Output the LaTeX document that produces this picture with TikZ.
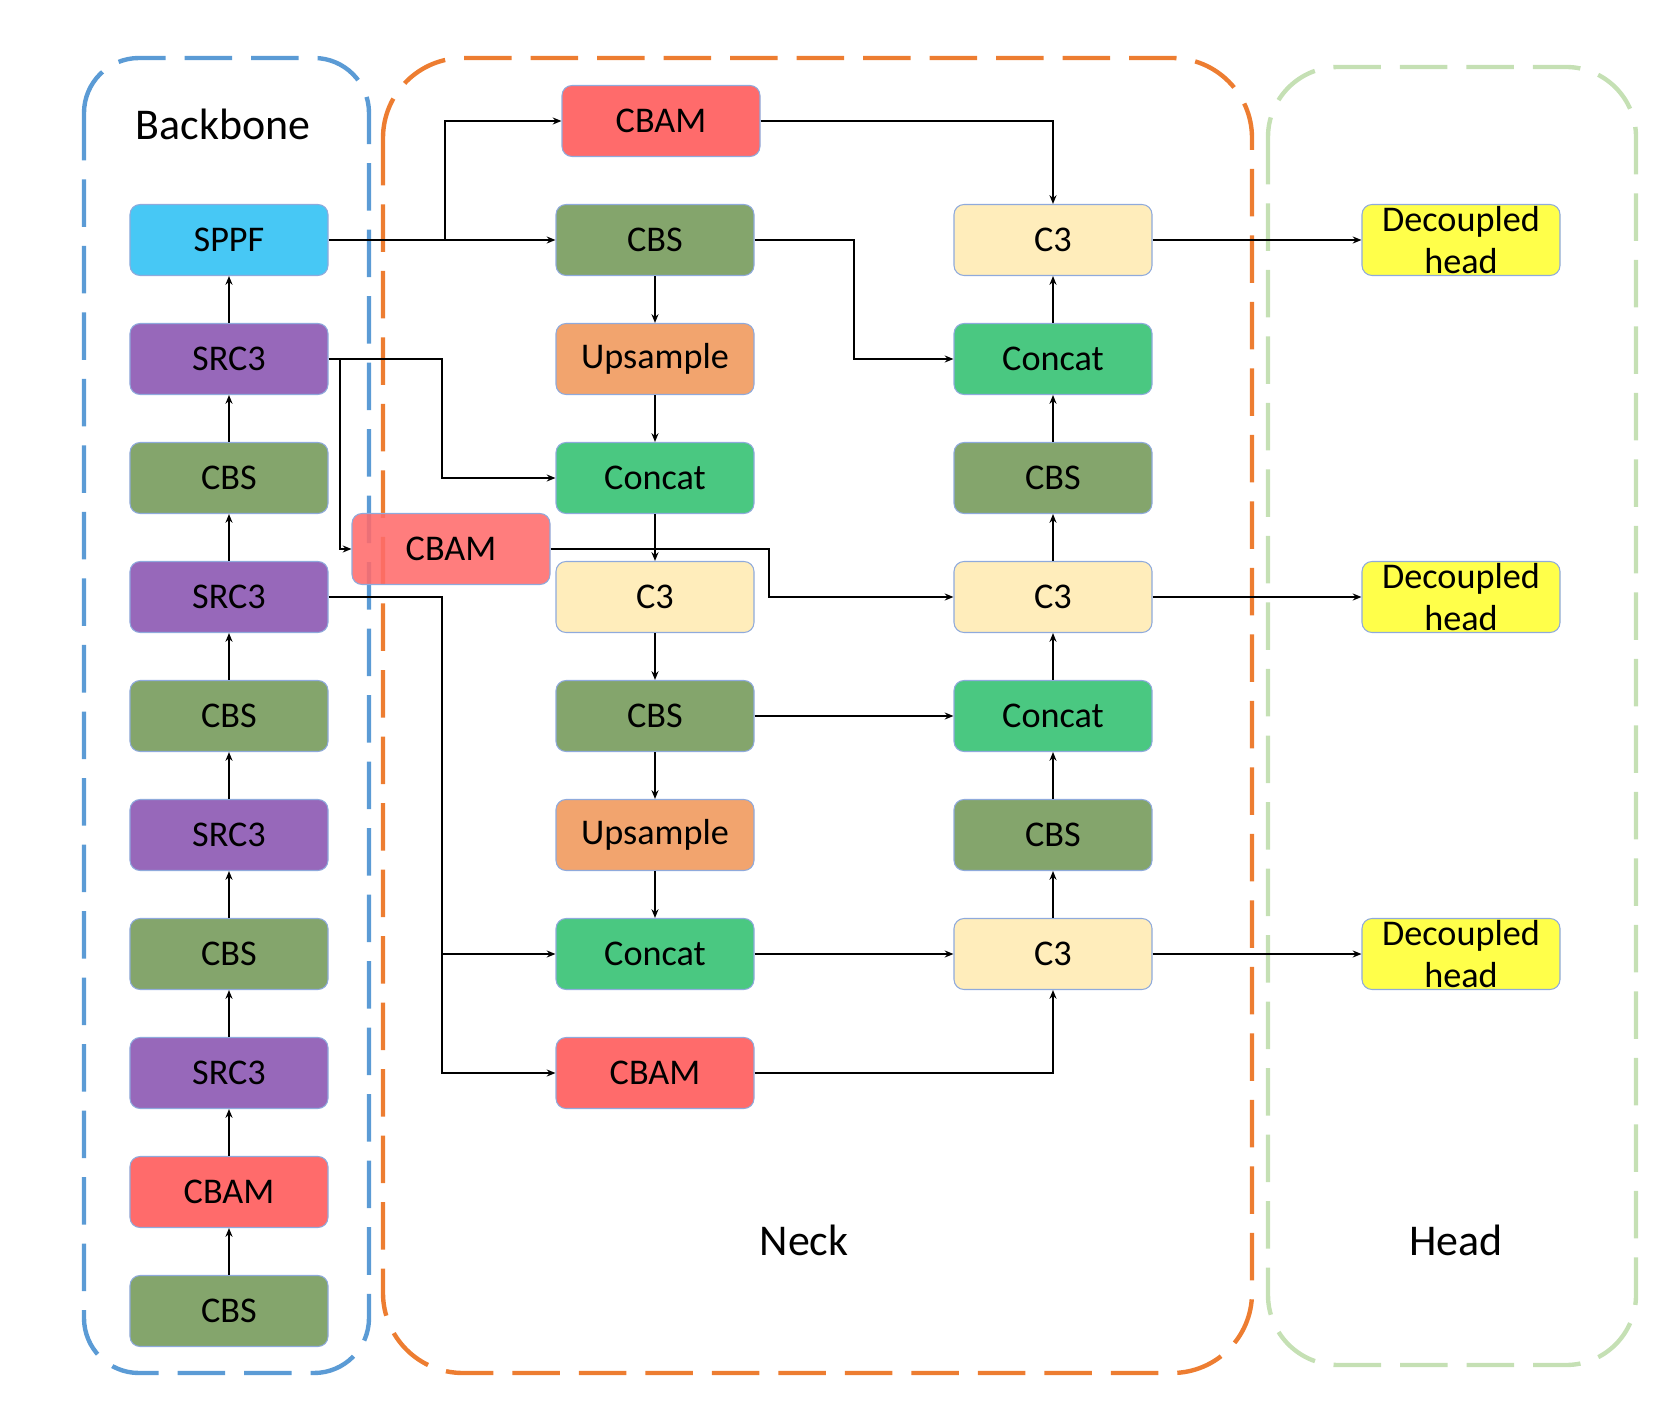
\documentclass[tikz,border=0pt]{standalone}
\usepackage{fontspec}
\setmainfont{Carlito}
\usetikzlibrary{arrows.meta, positioning}
\definecolor{sppffill}{HTML}{47C8F5}
\definecolor{src3fill}{HTML}{9768BA}
\definecolor{cbsfill}{HTML}{84A56C}
\definecolor{cbamfill}{HTML}{FF6B6B}
\definecolor{upfill}{HTML}{F2A46E}
\definecolor{catfill}{HTML}{4AC881}
\definecolor{c3fill}{HTML}{FFEDBB}
\definecolor{headfill}{HTML}{FFFF4A}
\definecolor{boxline}{HTML}{8FAADC}
\definecolor{bbline}{HTML}{5B9BD5}
\definecolor{neckline}{HTML}{ED7D31}
\definecolor{headline}{HTML}{C5E0B4}
\tikzstyle{block} = [rectangle, draw=boxline, line width=0.6pt, rounded corners=0.2cm, text centered, minimum height=1.42cm, minimum width=3.96cm, inner sep=0pt, font=\fontsize{20.6}{24}\selectfont]
\tikzstyle{sppf} = [block, fill=sppffill]
\tikzstyle{src3} = [block, fill=src3fill]
\tikzstyle{cbs} = [block, fill=cbsfill]
\tikzstyle{cbam} = [block, fill=cbamfill]
\tikzstyle{upsample} = [block, fill=upfill]
\tikzstyle{concat} = [block, fill=catfill]
\tikzstyle{c3} = [block, fill=c3fill]
\tikzstyle{dhead} = [block, fill=headfill, align=center, inner ysep=-2pt]
\tikzstyle{arrow} = [line width=1pt, -{Stealth[length=5pt,width=4pt]}]
\tikzstyle{groupbox} = [line width=2.5pt, dash pattern=on 0.95cm off 0.38cm]
\tikzstyle{grouplabel} = [font=\fontsize{25}{30}\selectfont]

\begin{document}
\begin{tikzpicture}[node distance=2.38cm]
    \useasboundingbox (-4.58,4.80) rectangle (28.74,-23.24);

    % Dashed groups
    \draw [groupbox, draw=bbline, rounded corners=1.1cm] (-2.90,3.64) rectangle (2.80,-22.66);
    \draw [groupbox, draw=neckline, rounded corners=1.6cm] (3.08,3.64) rectangle (20.46,-22.66);
    \draw [groupbox, draw=headline, rounded corners=1.4cm] (20.78,3.46) rectangle (28.14,-22.50);

    \node (l_bb) [grouplabel] at (-0.12,2.32) {Backbone};
    \node (l_neck) [grouplabel] at (11.5,-20.0) {Neck};
    \node (l_head) [grouplabel] at (24.54,-20.0) {Head};

    % Backbone
    \node (sppf) [sppf] {SPPF};
    \node (src3a) [src3, below of=sppf] {SRC3};
    \node (cbsa) [cbs, below of=src3a] {CBS};
    \node (src3b) [src3, below of=cbsa] {SRC3};
    \node (cbsb) [cbs, below of=src3b] {CBS};
    \node (src3c) [src3, below of=cbsb] {SRC3};
    \node (cbsc) [cbs, below of=src3c] {CBS};
    \node (src3d) [src3, below of=cbsc] {SRC3};
    \node (cbam_b) [cbam, below of=src3d] {CBAM};
    \node (cbs_in) [cbs, below of=cbam_b] {CBS};

    % Neck, left column
    \node (n_cbs1) [cbs, right of=sppf, xshift=6.14cm] {CBS};
    \node (n_cbam1) [cbam, above of=n_cbs1, xshift=0.12cm] {CBAM};
    \node (n_up1) [upsample, below of=n_cbs1] {Upsample};
    \node (n_cat1) [concat, below of=n_up1] {Concat};
    \node (n_c3) [c3, below of=n_cat1] {C3};
    \node (n_cbs2) [cbs, below of=n_c3] {CBS};
    \node (n_up2) [upsample, below of=n_cbs2] {Upsample};
    \node (n_cat2) [concat, below of=n_up2] {Concat};
    \node (n_cbam3) [cbam, below of=n_cat2] {CBAM};
    \node (n_cbam2) [cbam, right of=src3a, xshift=2.06cm, yshift=-3.80cm, fill opacity=0.88, text opacity=1] {CBAM};

    % Neck, right column
    \node (r_c3a) [c3, right of=n_cbs1, xshift=5.58cm] {C3};
    \node (r_cat1) [concat, below of=r_c3a] {Concat};
    \node (r_cbs1) [cbs, below of=r_cat1] {CBS};
    \node (r_c3b) [c3, below of=r_cbs1] {C3};
    \node (r_cat2) [concat, below of=r_c3b] {Concat};
    \node (r_cbs2) [cbs, below of=r_cat2] {CBS};
    \node (r_c3c) [c3, below of=r_cbs2] {C3};

    % Head
    \node (h1) [dhead, right of=r_c3a, xshift=5.78cm] {Decoupled\\head};
    \node (h2) [dhead, right of=r_c3b, xshift=5.78cm] {Decoupled\\head};
    \node (h3) [dhead, right of=r_c3c, xshift=5.78cm] {Decoupled\\head};

    % elbow points
    \coordinate (k_sppf) at (4.32,0);
    \coordinate (k_cbs) at (12.5,-1);
    \coordinate (k_src3a) at (4.26,-3.5);
    \coordinate (k_side) at (2.22,-2.38);
    \coordinate (k_cbam) at (10.80,-6.6);
    \coordinate (k_src3b) at (4.26,-10);

    % ==== Arrows
    % Backbone
    \draw [arrow] (cbs_in) -- (cbam_b);
    \draw [arrow] (cbam_b) -- (src3d);
    \draw [arrow] (src3d) -- (cbsc);
    \draw [arrow] (cbsc) -- (src3c);
    \draw [arrow] (src3c) -- (cbsb);
    \draw [arrow] (cbsb) -- (src3b);
    \draw [arrow] (src3b) -- (cbsa);
    \draw [arrow] (cbsa) -- (src3a);
    \draw [arrow] (src3a) -- (sppf);

    % Neck
    \draw [arrow] (sppf) -- (n_cbs1);
    \draw [arrow] (k_sppf) |- (n_cbam1);
    \draw [arrow] (n_cbam1) -| (r_c3a);
    \draw [arrow] (n_cbs1) -| (k_cbs) |- (r_cat1);
    \draw [arrow] (n_cbs1) -- (n_up1);
    \draw [arrow] (n_up1) -- (n_cat1);
    \draw [arrow] (src3a) -| (k_src3a) |- (n_cat1);
    \draw [arrow] (k_side) |- (n_cbam2);
    \draw [arrow] (n_cat1) -- (n_c3);
    \draw [arrow] (n_cbam2) -| (k_cbam) |- (r_c3b);
    \draw [arrow] (n_c3) -- (n_cbs2);
    \draw [arrow] (n_cbs2) -- (r_cat2);
    \draw [arrow] (n_cbs2) -- (n_up2);
    \draw [arrow] (n_up2) -- (n_cat2);
    \draw [arrow] (src3b) -| (k_src3b) |- (n_cat2);
    \draw [arrow] (k_src3b) |- (n_cbam3);
    \draw [arrow] (n_cat2) -- (r_c3c);
    \draw [arrow] (n_cbam3) -| (r_c3c);

    \draw [arrow] (r_c3c) -- (r_cbs2);
    \draw [arrow] (r_cbs2) -- (r_cat2);
    \draw [arrow] (r_cat2) -- (r_c3b);
    \draw [arrow] (r_c3b) -- (r_cbs1);
    \draw [arrow] (r_cbs1) -- (r_cat1);
    \draw [arrow] (r_cat1) -- (r_c3a);

    % Head
    \draw [arrow] (r_c3a) -- (h1);
    \draw [arrow] (r_c3b) -- (h2);
    \draw [arrow] (r_c3c) -- (h3);

\end{tikzpicture}
\end{document}
